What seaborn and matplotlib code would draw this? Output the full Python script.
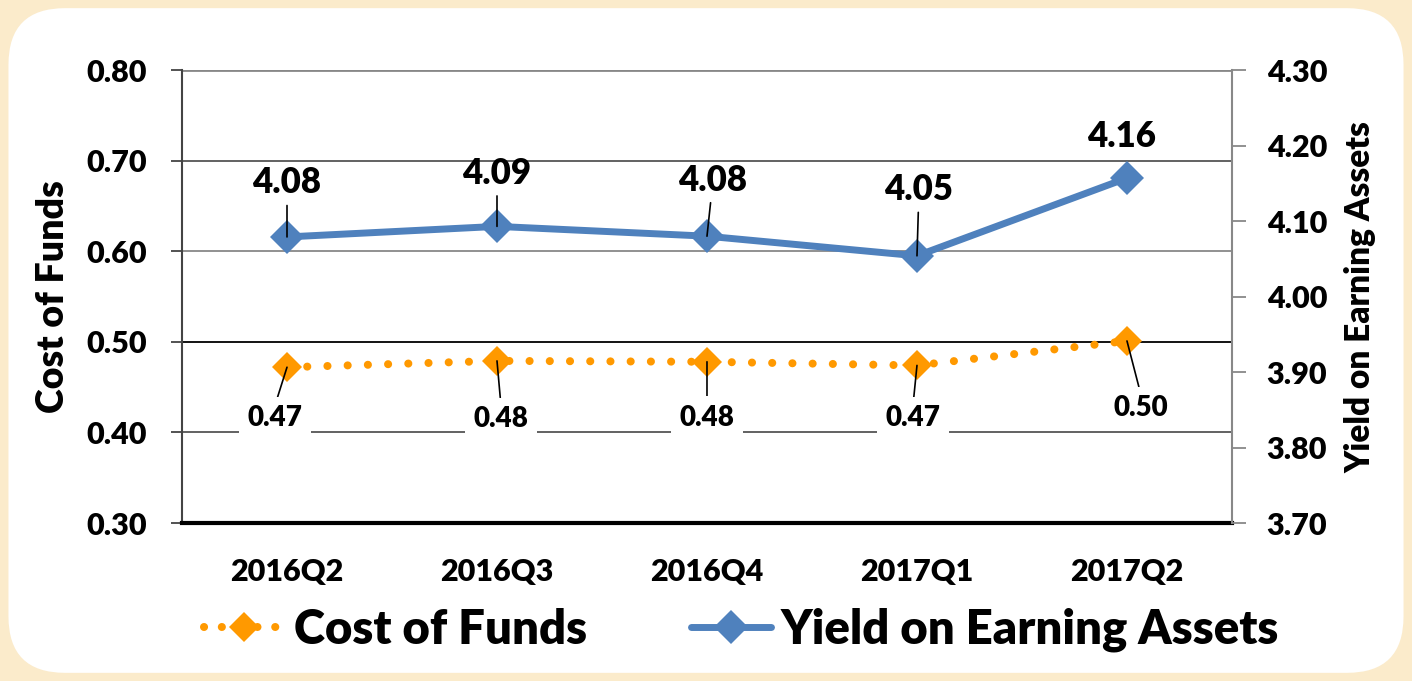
import matplotlib
matplotlib.use("Agg")
import matplotlib.pyplot as plt
import seaborn as sns
import pandas as pd
from matplotlib.patches import FancyBboxPatch
from matplotlib.lines import Line2D

quarters = ["2016Q2", "2016Q3", "2016Q4", "2017Q1", "2017Q2"]
cost_of_funds = [0.472, 0.479, 0.478, 0.474, 0.501]
cost_labels = ["0.47", "0.48", "0.48", "0.47", "0.50"]
yield_ea = [4.079, 4.093, 4.080, 4.054, 4.157]
yield_labels = ["4.08", "4.09", "4.08", "4.05", "4.16"]

ORANGE = "#FF9900"
BLUE = "#4F81BD"
W = "heavy"

sns.set_style("white")
plt.rcParams["font.family"] = ["Lato", "DejaVu Sans"]
plt.rcParams["font.weight"] = W
plt.rcParams["text.color"] = "black"
plt.rcParams["xtick.color"] = "black"
plt.rcParams["ytick.color"] = "black"
plt.rcParams["axes.labelcolor"] = "black"

df = pd.DataFrame({"pos": range(len(quarters)), "cof": cost_of_funds, "yea": yield_ea})

fig = plt.figure(figsize=(14.12, 6.81), dpi=100)
fig.patch.set_facecolor("#FBEBCB")
fig.patches.append(FancyBboxPatch((0.006, 0.012), 0.988, 0.976,
                                  boxstyle="round,pad=0,rounding_size=0.04",
                                  transform=fig.transFigure, facecolor="white",
                                  edgecolor="none", zorder=-5, mutation_aspect=2.07))

ax = fig.add_axes([0.1289, 0.232, 0.7436, 0.665])
ax.set_facecolor("none")
ax2 = ax.twinx()
ax2.set_facecolor("none")

sns.lineplot(data=df, x="pos", y="cof", ax=ax, color=ORANGE, linewidth=5.8,
             marker="D", markersize=15, markeredgewidth=0, zorder=4)
ln = ax.lines[-1]
ln.set_dashes((0.01, 2.5))
ln.set_dash_capstyle("round")

sns.lineplot(data=df, x="pos", y="yea", ax=ax2, color=BLUE, linewidth=5,
             marker="D", markersize=17, markeredgewidth=0, zorder=4)

ax.set_xlim(-0.5, len(quarters) - 0.5)
ax.set_ylim(0.30, 0.80)
ax2.set_ylim(3.70, 4.30)
ax.set_yticks([0.3, 0.4, 0.5, 0.6, 0.7, 0.8])
ax.set_yticklabels([f"{v:.2f}" for v in ax.get_yticks()])
ax2.set_yticks([3.7, 3.8, 3.9, 4.0, 4.1, 4.2, 4.3])
ax2.set_yticklabels([f"{v:.2f}" for v in ax2.get_yticks()])

# gridlines on the left scale
for v, c in zip([0.4, 0.5, 0.6, 0.7, 0.8], ["#555555", "black", "#888888", "#555555", "#888888"]):
    ax.axhline(v, color=c, linewidth=1.3 if v < 0.8 else 2, zorder=1)

# category ticks sit between the categories
ax.set_xticks([i - 0.5 for i in range(len(quarters) + 1)])
ax.set_xticklabels([])
ax.set_xticks(range(len(quarters)), minor=True)
ax.set_xticklabels(quarters, minor=True, fontsize=22, fontweight=W)
ax.tick_params(axis="x", which="major", direction="out", length=10, width=3, color="black")
ax.tick_params(axis="x", which="minor", length=0, pad=25)
ax.tick_params(axis="y", direction="out", length=8, width=1.3, color="#444444",
               labelsize=22, pad=17)
ax2.tick_params(axis="y", direction="out", length=10, width=1.3, color="#888888",
                labelsize=22, pad=15)
for t in ax.get_yticklabels() + ax2.get_yticklabels():
    t.set_fontweight(W)

for a in (ax, ax2):
    for s in a.spines.values():
        s.set_visible(False)
ax.spines["left"].set_visible(True)
ax.spines["left"].set_color("#444444")
ax.spines["left"].set_linewidth(1.5)
ax.spines["bottom"].set_visible(True)
ax.spines["bottom"].set_color("black")
ax.spines["bottom"].set_linewidth(3)
ax2.spines["right"].set_visible(True)
ax2.spines["right"].set_color("#888888")
ax2.spines["right"].set_linewidth(1.5)

ax.set_xlabel("")
ax.set_ylabel("Cost of Funds", fontsize=27, fontweight=W, labelpad=12)
ax2.set_ylabel("Yield on Earning Assets", fontsize=24, fontweight=W, labelpad=12)

# data labels with leader lines
yield_off = [(0, 54), (0, 53), (6, 56), (2, 66), (-6, 42)]
for i, (v, lab) in enumerate(zip(yield_ea, yield_labels)):
    dx, dy = yield_off[i]
    arrow = dict(arrowstyle="-", color="black", lw=1.2, shrinkA=2, shrinkB=0) if i < 4 else None
    ax2.annotate(lab, (i, v), xytext=(dx, dy), textcoords="offset pixels",
                 ha="center", va="center", fontsize=25, fontweight=W,
                 arrowprops=arrow, zorder=6)

cost_off = [(-12, -51), (4, -58), (0, -56), (-4, -53), (14, -67)]
for i, (v, lab) in enumerate(zip(cost_of_funds, cost_labels)):
    dx, dy = cost_off[i]
    ax.annotate(lab, (i, v), xytext=(dx, dy), textcoords="offset pixels",
                ha="center", va="center", fontsize=20, fontweight=W,
                bbox=dict(boxstyle="square,pad=0.3", fc="white", ec="none"),
                arrowprops=dict(arrowstyle="-", color="black", lw=1.2, shrinkA=0, shrinkB=0,
                                relpos=(0.5, 1.0)),
                zorder=6)

handles = [
    Line2D([0], [0], color=ORANGE, linewidth=5.8, dashes=(0.01, 2.2), dash_capstyle="round",
           marker="D", markersize=15, markeredgewidth=0),
    Line2D([0], [0], color=BLUE, linewidth=5, marker="D", markersize=17, markeredgewidth=0),
]
leg = fig.legend(handles, ["Cost of Funds", "Yield on Earning Assets"], loc="center",
                 bbox_to_anchor=(0.525, 0.075), ncol=2, frameon=False,
                 prop={"size": 34, "weight": W}, handlelength=1.7,
                 columnspacing=2.2, handletextpad=0.2)

fig.savefig("out.png", dpi=100, facecolor=fig.get_facecolor())
